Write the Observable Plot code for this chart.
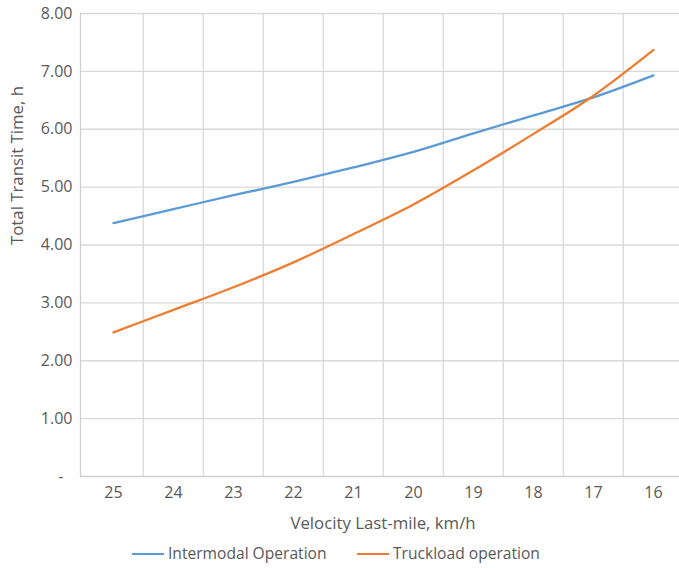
<!DOCTYPE html>
<html>
<head>
<meta charset="utf-8">
<script src="https://cdn.jsdelivr.net/npm/d3@7"></script>
<script src="https://cdn.jsdelivr.net/npm/@observablehq/plot@0.6"></script>
<style>
  html, body { margin: 0; padding: 0; background: #fff; overflow: hidden; }
  #wrap { width: 679px; height: 568px; overflow: hidden; position: relative; font-family: "Open Sans", "Noto Sans", sans-serif; }
  #chart svg { max-width: none !important; width: 685px !important; height: 538px !important; display: block; }
  #legend { position: absolute; left: 0; top: 541px; width: 679px; height: 24px; font-size: 15.6px; color: #595959; }
  .item { position: absolute; top: 0; height: 24px; line-height: 24px; white-space: nowrap; }
  .swatch { display: inline-block; width: 32px; height: 2.5px; vertical-align: middle; margin-right: 4px; position: relative; top: -1px; }
</style>
</head>
<body>
<div id="wrap">
  <div id="chart"></div>
  <div id="legend"></div>
</div>
<script>
const velocities = ["25", "24", "23", "22", "21", "20", "19", "18", "17", "16"];
const intermodal = [4.38, 4.62, 4.86, 5.09, 5.34, 5.61, 5.93, 6.24, 6.55, 6.93];
const truckload  = [2.49, 2.88, 3.27, 3.70, 4.19, 4.70, 5.29, 5.92, 6.58, 7.37];
const seriesNames = ["Intermodal Operation", "Truckload operation"];
const seriesColors = ["#5B9BD5", "#ED7D31"];
const yTicks = [0, 1, 2, 3, 4, 5, 6, 7, 8];

const rows = [];
velocities.forEach((v, i) => {
  rows.push({v, t: intermodal[i], s: seriesNames[0]});
  rows.push({v, t: truckload[i], s: seriesNames[1]});
});

const W = 685, H = 538;
const mL = 80, mR = 0, mT = 13, mB = 62;
const step = (W - mL - mR) / velocities.length;
const textColor = "#595959";
const gridColor = "#d9d9d9";

const chart = Plot.plot({
  width: W,
  height: H,
  marginLeft: mL,
  marginRight: mR,
  marginTop: mT,
  marginBottom: mB,
  style: {fontFamily: "'Open Sans', 'Noto Sans', sans-serif", fontSize: "16px", color: textColor, background: "#fff"},
  x: {type: "point", domain: velocities, padding: 0.5, label: null},
  y: {domain: [0, 8], label: null},
  color: {domain: seriesNames, range: seriesColors},
  marks: [
    Plot.ruleY(yTicks.slice(1), {stroke: gridColor, strokeWidth: 1.3}),
    Plot.ruleX(velocities.slice(1), {x: d => d, dx: -step / 2, stroke: gridColor, strokeWidth: 1.3}),
    Plot.ruleY([0], {stroke: "#cfcfcf", strokeWidth: 1.3}),
    Plot.frame({anchor: "left", stroke: "#cfcfcf", strokeWidth: 1.3}),
    Plot.axisY({ticks: yTicks, tickSize: 0, tickPadding: 8, tickFormat: d => d === 0 ? "-\u2007" : d.toFixed(2), fill: textColor, fontSize: 16}),
    Plot.axisX({tickSize: 0, tickPadding: 10, fill: textColor, fontSize: 16}),
    Plot.text(["Velocity Last-mile, km/h"], {frameAnchor: "bottom", dy: 52, fill: textColor, fontSize: 16.8}),
    Plot.text(["Total Transit Time, h"], {frameAnchor: "left", dx: -63, rotate: -90, fill: textColor, fontSize: 16.8}),
    Plot.line(rows, {x: "v", y: "t", z: "s", stroke: "s", strokeWidth: 2.3, curve: "catmull-rom"})
  ]
});
document.getElementById("chart").appendChild(chart);

const legend = document.getElementById("legend");
const lefts = [132, 357];
seriesNames.forEach((name, i) => {
  const it = document.createElement("div");
  it.className = "item";
  it.style.left = lefts[i] + "px";
  const sw = document.createElement("span");
  sw.className = "swatch";
  sw.style.background = seriesColors[i];
  it.appendChild(sw);
  it.appendChild(document.createTextNode(name));
  legend.appendChild(it);
});
</script>
</body>
</html>
